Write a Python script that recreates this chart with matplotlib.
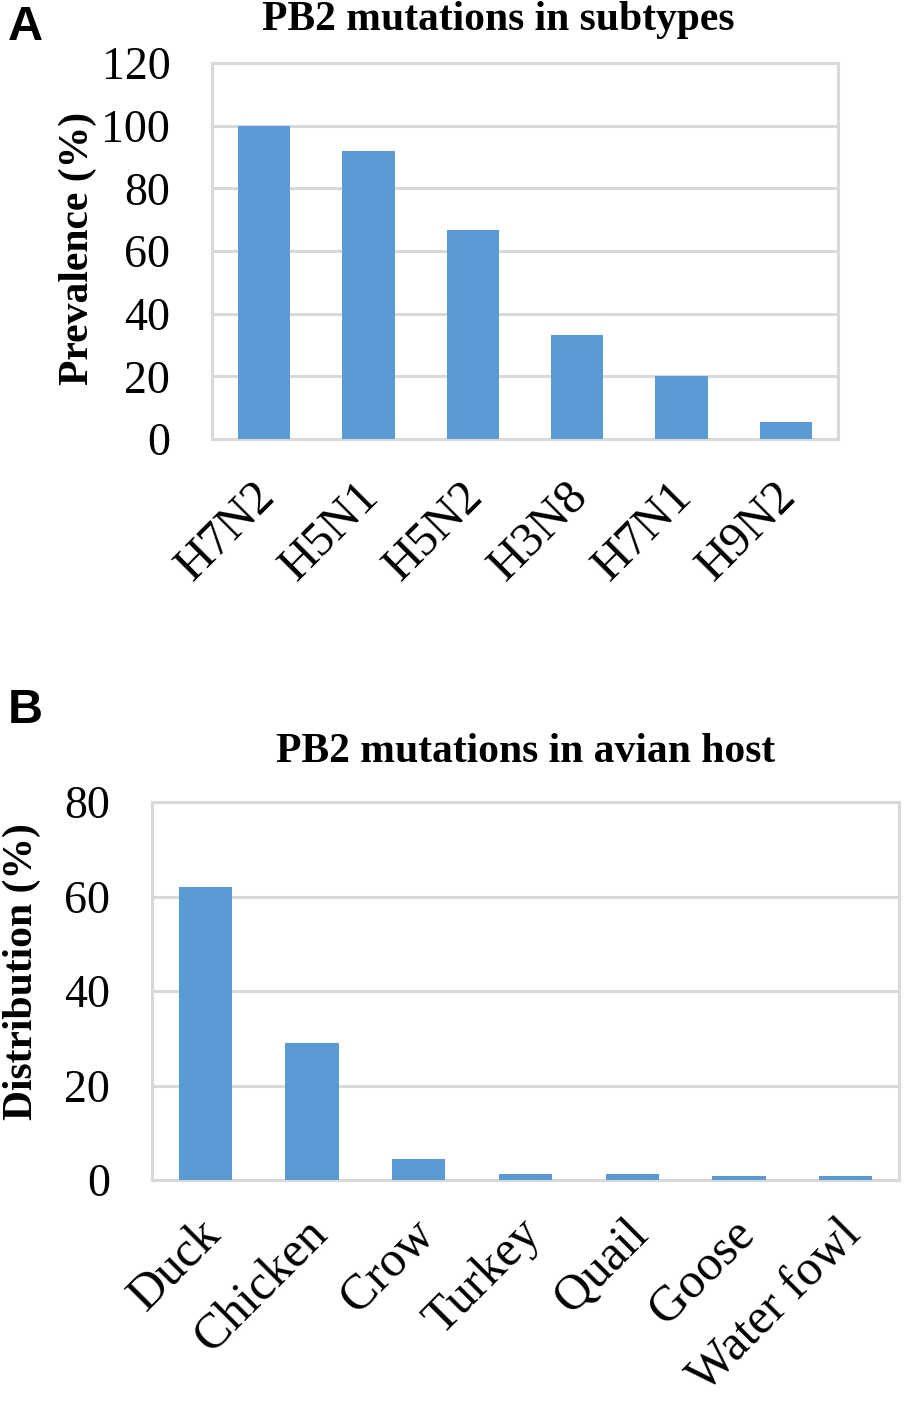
import matplotlib
matplotlib.use("Agg")
import matplotlib.pyplot as plt
import matplotlib.transforms as mtransforms
import numpy as np

# panel A: prevalence of PB2 mutations per subtype
subtypes = ["H7N2", "H5N1", "H5N2", "H3N8", "H7N1", "H9N2"]
prevalence = [100, 92, 66.7, 33.3, 20, 5.4]

# panel B: distribution over avian hosts
hosts = ["Duck", "Chicken", "Crow", "Turkey", "Quail", "Goose", "Water fowl"]
distribution = [62, 29, 4.4, 1.3, 1.3, 0.8, 0.8]

BAR = "#5b9bd5"
GRID = "#d9d9d9"
SERIF = ["Liberation Serif", "DejaVu Serif"]

plt.rcParams["font.family"] = SERIF

W, H = 908, 1406
fig = plt.figure(figsize=(W / 100, H / 100), dpi=100)


def px_axes(left, top, right, bottom):
    return fig.add_axes([left / W, 1 - bottom / H, (right - left) / W, (bottom - top) / H])


def style(ax, cats, vals, ymax, step, xsize, xpad, xshift):
    x = np.arange(len(cats))
    ax.bar(x, vals, width=0.5, color=BAR, zorder=3)
    ax.set_xlim(-0.5, len(cats) - 0.5)
    ax.set_ylim(0, ymax)
    ax.set_yticks(np.arange(0, ymax + 1, step))
    ax.set_xticks(x)
    ax.set_xticklabels(cats, rotation=45, ha="right", va="top",
                       rotation_mode="anchor", fontsize=xsize)
    ax.tick_params(axis="y", length=0, pad=30, labelsize=33)
    ax.tick_params(axis="x", length=0, pad=xpad)
    # nudge the slanted labels sideways a little
    off = mtransforms.ScaledTranslation(xshift / 100, 0, fig.dpi_scale_trans)
    for lab in ax.get_xticklabels():
        lab.set_transform(lab.get_transform() + off)
    ax.grid(axis="y", color=GRID, linewidth=2.2, zorder=0)
    for s in ax.spines.values():
        s.set_color(GRID)
        s.set_linewidth(2.2)


axA = px_axes(212, 63, 838, 439)
style(axA, subtypes, prevalence, 120, 20, 35, 25, -12)
fig.text(498 / W, 1 - 20 / H, "PB2 mutations in subtypes", ha="center", va="center",
         fontsize=30, fontweight="bold")
fig.text(78 / W, 1 - 248 / H, "Prevalence (%)", ha="center", va="center",
         rotation=90, fontsize=30, fontweight="bold")

axB = px_axes(152, 802, 899, 1180)
style(axB, hosts, distribution, 80, 20, 36, 22, -8)
fig.text(526 / W, 1 - 752 / H, "PB2 mutations in avian host", ha="center", va="center",
         fontsize=30, fontweight="bold")
fig.text(22 / W, 1 - 972 / H, "Distribution (%)", ha="center", va="center",
         rotation=90, fontsize=30, fontweight="bold")

# panel letters
fig.text(8 / W, 1 - 28 / H, "A", ha="left", va="center", fontsize=35,
         fontweight="bold", family=["Liberation Sans", "DejaVu Sans"])
fig.text(8 / W, 1 - 710 / H, "B", ha="left", va="center", fontsize=35,
         fontweight="bold", family=["Liberation Sans", "DejaVu Sans"])

fig.savefig("out.png", dpi=100)
